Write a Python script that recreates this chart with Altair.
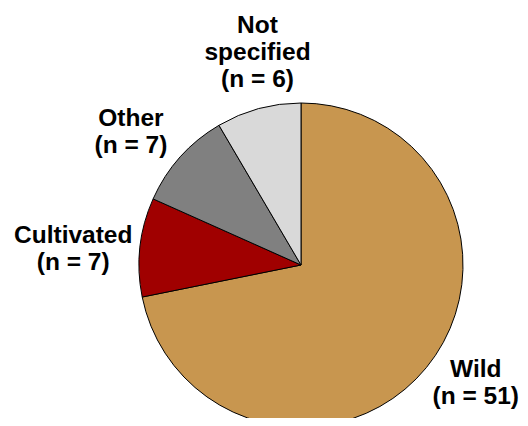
import altair as alt
import pandas as pd

categories = ["Wild", "Cultivated", "Other", "Not specified"]
counts = [51, 7, 7, 6]
label_names = ["Wild", "Cultivated", "Other", "Not\nspecified"]
colors = ["#C8964F", "#A00000", "#808080", "#D9D9D9"]

df = pd.DataFrame({
    "idx": list(range(len(categories))),
    "category": categories,
    "count": counts,
    "label": [f"{n}\n(n = {c})" for n, c in zip(label_names, counts)],
})

CX, CY, R, LR = 293, 257, 162, 200
offsets = {"Wild": (20, -15), "Cultivated": (-29, 0), "Other": (-21, -6), "Not specified": (9, -39)}

pie = alt.Chart(df).mark_arc(radius=R, stroke="black", strokeWidth=1).encode(
    theta=alt.Theta("count:Q", stack=True),
    color=alt.Color("category:N", scale=alt.Scale(domain=categories, range=colors), legend=None),
    order=alt.Order("idx:Q"),
    x=alt.value(CX),
    y=alt.value(CY),
)

base = alt.Chart(df).transform_window(
    cum="sum(count)", sort=[{"field": "idx"}]
).transform_joinaggregate(
    total="sum(count)"
).transform_calculate(
    ang="(datum.cum - datum.count/2)/datum.total*2*PI",
    lx=f"{CX} + {LR}*sin(datum.ang)",
    ly=f"{CY} - {LR}*cos(datum.ang)",
)

layers = [pie]
for cat in categories:
    dx, dy = offsets[cat]
    layers.append(
        base.transform_filter(alt.datum.category == cat).mark_text(
            font="Liberation Sans", fontWeight="bold", fontSize=24.5, lineHeight=27,
            align="center", baseline="alphabetic", lineBreak="\n", dx=dx, dy=dy, color="black",
        ).encode(
            x=alt.X("lx:Q", scale=None),
            y=alt.Y("ly:Q", scale=None),
            text="label:N",
        )
    )

chart = alt.layer(*layers).properties(
    width=512, height=410, padding=0, autosize="none"
).configure_view(stroke=None)

chart.save("out.html", embed_options={"renderer": "svg", "actions": False})
